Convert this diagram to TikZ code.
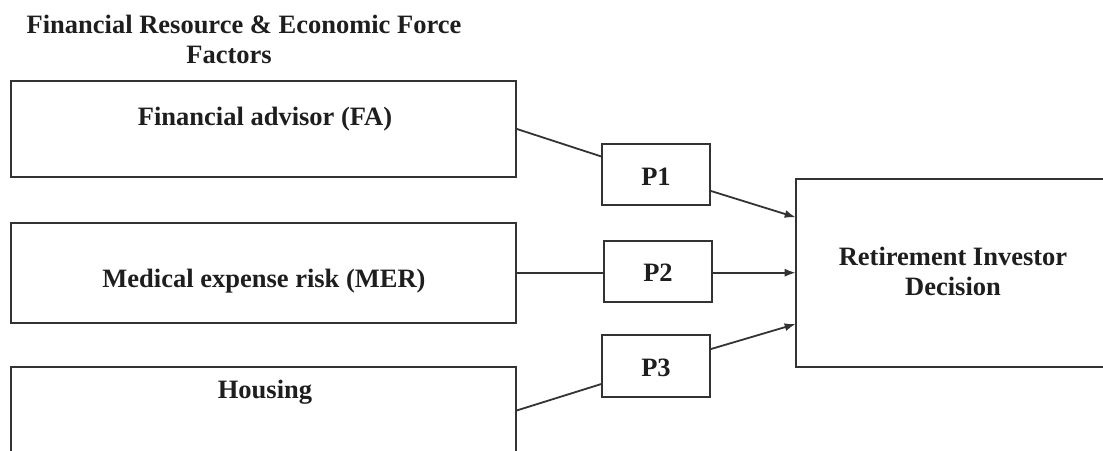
\documentclass[tikz,border=0pt]{standalone}
\usepackage{fontspec}
\setmainfont{Liberation Serif}
\usetikzlibrary{arrows.meta,calc}
\definecolor{ln}{HTML}{333333}
\definecolor{tx}{HTML}{1E1E1E}
\tikzset{
  box/.style={draw=ln, line width=2pt, fill=none, inner sep=0pt, outer sep=0pt},
  lbl/.style={text=tx, font=\fontsize{26.5}{30}\selectfont\bfseries, inner sep=0pt, align=center},
  conn/.style={draw=ln, line width=1.8pt},
  arr/.style={conn, -{Latex[length=11pt,width=8pt]}}
}
\begin{document}
\begin{tikzpicture}[x=1pt,y=-1pt]
\useasboundingbox (0,0) rectangle (1103,450);
% title
\node[lbl] (t1) at (244,24) {Financial Resource \& Economic Force};
\node[lbl] (t2) at (229,55) {Factors};
% left boxes
\node[box, minimum width=505pt, minimum height=96pt] (fa) at (263.5,128.7) {};
\node[lbl] (fat) at (265,119) {Financial advisor (FA)};
\node[box, minimum width=505pt, minimum height=100pt] (mer) at (263.5,272.7) {};
\node[lbl] (mert) at (264,281) {Medical expense risk (MER)};
\node[box, minimum width=505pt, minimum height=110pt] (hou) at (263.5,421.7) {};
\node[lbl] (hout) at (265,392) {Housing};
% P boxes
\node[box, minimum width=108pt, minimum height=61pt] (p1) at (656,174.7) {};
\node[lbl] (p1t) at (656,177) {P1};
\node[box, minimum width=108pt, minimum height=61pt] (p2) at (658,271.5) {};
\node[lbl] (p2t) at (658,273) {P2};
\node[box, minimum width=108pt, minimum height=62pt] (p3) at (656,365.8) {};
\node[lbl] (p3t) at (656,368) {P3};
% right box
\node[box, minimum width=320pt, minimum height=187.7pt] (rid) at (955.7,272.8) {};
\node[lbl] (ridt) at (953,271) {Retirement Investor\\Decision};
% connectors
\draw[conn] (fa.east) -- ([yshift=18pt]p1.west);
\draw[arr] ([yshift=-16pt]p1.east) -- ([yshift=55.5pt]rid.west);
\draw[conn] (mer.east) -- (mer.east -| p2.west);
\draw[arr] (mer.east -| p2.east) -- (mer.east -| rid.west);
\draw[conn] ([yshift=11pt]hou.east) -- ([yshift=-18pt]p3.west);
\draw[arr] ([yshift=16.5pt]p3.east) -- ([yshift=-51.2pt]rid.west);
\end{tikzpicture}
\end{document}
